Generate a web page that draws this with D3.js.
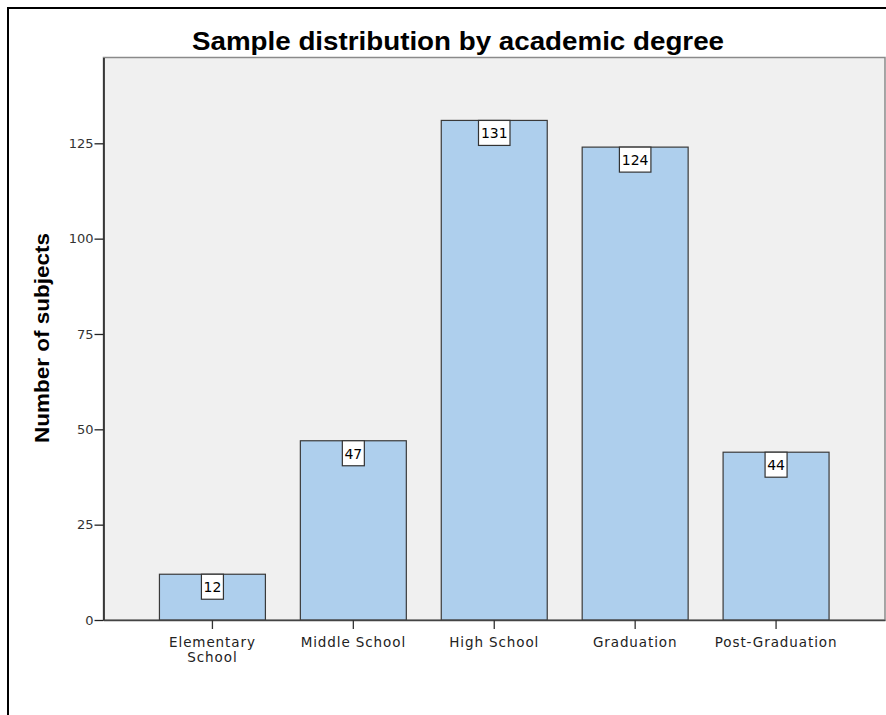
<!DOCTYPE html>
<html><head><meta charset="utf-8">
<script src="https://cdn.jsdelivr.net/npm/d3@7"></script>
<style>body{margin:0;background:#fff}svg{display:block}</style>
</head><body>
<script>
const categories = ["Elementary School", "Middle School", "High School", "Graduation", "Post-Graduation"];
const labelLines = [["Elementary", "School"], ["Middle School"], ["High School"], ["Graduation"], ["Post-Graduation"]];
const values = [12, 47, 131, 124, 44];
const yTicks = [0, 25, 50, 75, 100, 125];
const title = "Sample distribution by academic degree";
const yLabel = "Number of subjects";

const W = 886, H = 715;
const svg = d3.select("body").append("svg").attr("width", W).attr("height", H);
const font = "Arial, 'Liberation Sans', sans-serif";
const tickFont = "'DejaVu Sans', sans-serif";

// outer frame
svg.append("rect").attr("x", 8).attr("y", 8).attr("width", 890).attr("height", 720)
  .attr("fill", "#fff").attr("stroke", "#000").attr("stroke-width", 2);

const L = 103.5, R = 885, T = 57.5, B = 620;
const x = d3.scaleBand().domain(categories).range([L, R]).paddingInner(0.248).paddingOuter(0.397);
const y = d3.scaleLinear().domain([0, 147.5]).range([B, T]);

// plot background
svg.append("rect").attr("x", L).attr("y", T).attr("width", R - L).attr("height", B - T)
  .attr("fill", "#f0f0f0").attr("stroke", "#8a8a8a").attr("stroke-width", 1.5);

// bars
svg.append("g").selectAll("rect").data(values).join("rect")
  .attr("x", (d, i) => x(categories[i]))
  .attr("y", d => y(d))
  .attr("width", x.bandwidth())
  .attr("height", d => y(0) - y(d))
  .attr("fill", "#aecfed").attr("stroke", "#3a3a3a").attr("stroke-width", 1.2);

// value labels
const lab = svg.append("g").selectAll("g").data(values).join("g")
  .attr("transform", (d, i) => `translate(${x(categories[i]) + x.bandwidth() / 2},${y(d)})`);
lab.append("rect")
  .attr("x", d => -(String(d).length * 9.5 + 3) / 2)
  .attr("y", 0)
  .attr("width", d => String(d).length * 9.5 + 3)
  .attr("height", 25)
  .attr("fill", "#fff").attr("stroke", "#333").attr("stroke-width", 1.2);
lab.append("text").attr("y", 18).attr("text-anchor", "middle")
  .attr("font-family", tickFont).attr("font-size", 14).attr("fill", "#000")
  .text(d => d);

// y axis
const yAxis = svg.append("g").attr("transform", `translate(${L},0)`)
  .call(d3.axisLeft(y).tickValues(yTicks).tickSize(9).tickSizeOuter(0).tickPadding(1));
yAxis.select(".domain").attr("stroke", "#222").attr("stroke-width", 1.6);
yAxis.selectAll(".tick line").attr("stroke", "#222").attr("stroke-width", 1.3);
yAxis.selectAll(".tick text").attr("font-family", tickFont).attr("font-size", 13).attr("fill", "#333");

// x axis
const xAxis = svg.append("g").attr("transform", `translate(0,${B})`)
  .call(d3.axisBottom(x).tickSize(9).tickSizeOuter(0).tickFormat(""));
xAxis.select(".domain").attr("stroke", "#444").attr("stroke-width", 1.6);
xAxis.selectAll(".tick line").attr("stroke", "#333").attr("stroke-width", 1.3);
xAxis.selectAll(".tick").each(function (d, i) {
  const t = d3.select(this).append("text").attr("text-anchor", "middle")
    .attr("font-family", tickFont).attr("font-size", 13.5).attr("letter-spacing", 0.9).attr("fill", "#222");
  labelLines[i].forEach((ln, k) => t.append("tspan").attr("x", 0).attr("y", 27 + k * 15).text(ln));
});

// title
svg.append("text").attr("x", 458).attr("y", 50).attr("text-anchor", "middle")
  .attr("font-family", font).attr("font-weight", "bold").attr("font-size", 26).attr("fill", "#000")
  .attr("textLength", 532).attr("lengthAdjust", "spacingAndGlyphs")
  .text(title);

// y label
svg.append("text").attr("transform", "translate(49,338) rotate(-90)").attr("text-anchor", "middle")
  .attr("font-family", font).attr("font-weight", "bold").attr("font-size", 20).attr("fill", "#000")
  .attr("textLength", 210).attr("lengthAdjust", "spacingAndGlyphs")
  .text(yLabel);
</script>
</body></html>
